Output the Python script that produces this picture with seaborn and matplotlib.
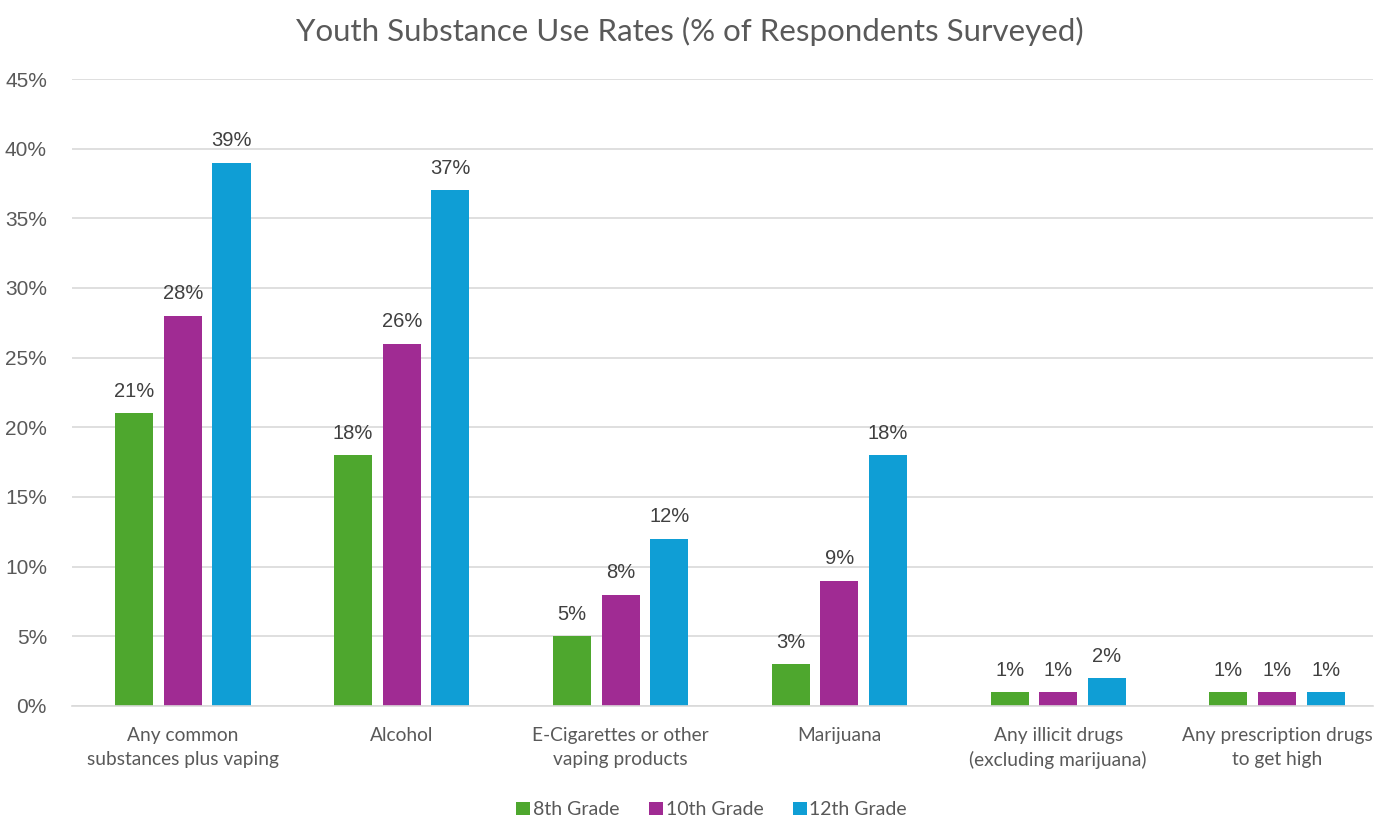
import matplotlib
matplotlib.use("Agg")
import matplotlib.pyplot as plt
import seaborn as sns
import pandas as pd
from matplotlib.ticker import FuncFormatter
from matplotlib.patches import Patch

categories = ["Any common\nsubstances plus vaping", "Alcohol", "E-Cigarettes or other\nvaping products",
              "Marijuana", "Any illicit drugs\n(excluding marijuana)", "Any prescription drugs\nto get high"]
grades = ["8th Grade", "10th Grade", "12th Grade"]
grade8 = [21, 18, 5, 3, 1, 1]
grade10 = [28, 26, 8, 9, 1, 1]
grade12 = [39, 37, 12, 18, 2, 1]
yticks = [0, 5, 10, 15, 20, 25, 30, 35, 40, 45]

colors = ["#4ea72e", "#a02b93", "#0f9ed5"]

rows = []
for g, vals in zip(grades, [grade8, grade10, grade12]):
    for c, v in zip(categories, vals):
        rows.append({"Category": c, "Grade": g, "Value": v})
df = pd.DataFrame(rows)

sns.set_theme(style="white")
plt.rcParams['font.family'] = ['Liberation Sans', 'DejaVu Sans']

fig = plt.figure(figsize=(13.79, 8.23), dpi=100)
ax = fig.add_axes([0.0522, 0.1422, 0.9435, 0.7618])

sns.barplot(data=df, x="Category", y="Value", hue="Grade", order=categories, hue_order=grades,
            palette=colors, width=0.666, gap=0.216, ax=ax, legend=False, saturation=1, edgecolor="none")

for cont in ax.containers:
    ax.bar_label(cont, labels=[f"{int(round(b.get_height()))}%" for b in cont], padding=9,
                 fontsize=14.5, color="#404040")

ax.set_xlim(-0.507, 5.439)
ax.set_ylim(0, 45)
ax.set_yticks(yticks)
ax.yaxis.set_major_formatter(FuncFormatter(lambda v, p: f"{int(v)}%"))
ax.grid(axis="y", color="#d9d9d9", linewidth=1.2)
ax.set_axisbelow(True)
for s in ["top", "right", "left"]:
    ax.spines[s].set_visible(False)
ax.spines["bottom"].set_color("#d9d9d9")
ax.spines["bottom"].set_linewidth(1.2)
ax.tick_params(axis="y", labelsize=15, colors="#595959", length=0, pad=18)
ax.tick_params(axis="x", length=0, pad=15)
for lab in ax.get_xticklabels():
    lab.set_fontfamily(["Lato", "DejaVu Sans"])
    lab.set_fontsize(13.8)
    lab.set_color("#595959")
    lab.set_linespacing(1.5)
ax.set_xlabel("")
ax.set_ylabel("")

fig.text(0.5, 0.962, "Youth Substance Use Rates (% of Respondents Surveyed)", ha="center", va="center",
         fontsize=22.5, color="#595959", family=["Lato", "DejaVu Sans"])

handles = [Patch(facecolor=c, edgecolor="none") for c in colors]
fig.legend(handles, grades, loc="center", bbox_to_anchor=(0.516, 0.016), ncol=3, frameon=False,
           handlelength=0.72, handleheight=0.72, handletextpad=0.15, columnspacing=1.5,
           prop={"family": ["Lato", "DejaVu Sans"], "size": 14}, labelcolor="#595959")

fig.savefig("out.png", dpi=100)
